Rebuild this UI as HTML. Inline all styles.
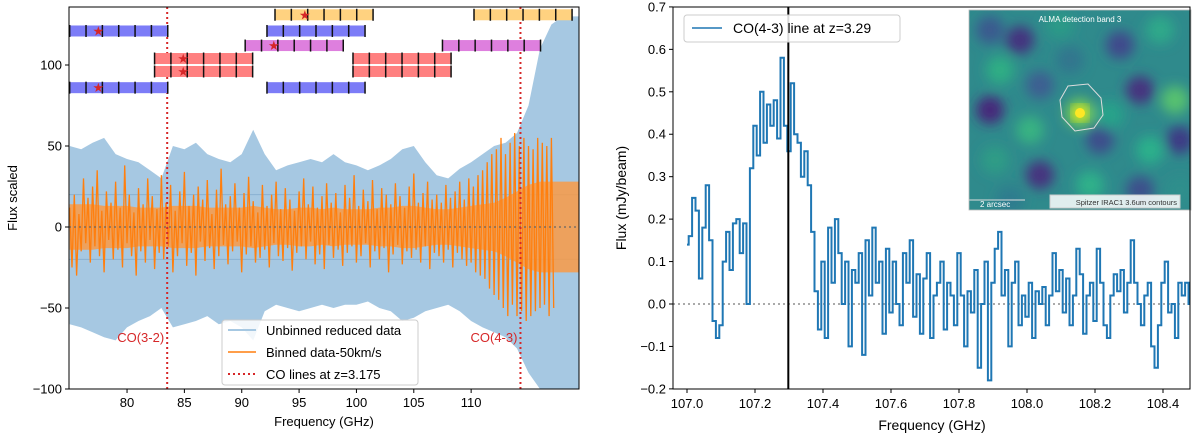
<!DOCTYPE html>
<html><head><meta charset="utf-8">
<style>
html,body{margin:0;padding:0;background:#fff;}
svg{display:block;font-family:"Liberation Sans","DejaVu Sans",sans-serif;}
</style></head>
<body>
<svg id="c" width="1200" height="441" viewBox="0 0 1200 441">
<defs>
<clipPath id="clipL"><rect x="69" y="7" width="510" height="382"/></clipPath>
<clipPath id="clipR"><rect x="673" y="7" width="517" height="382"/></clipPath>
<clipPath id="clipI"><rect x="969" y="10" width="222" height="200"/></clipPath>
<filter id="blur"><feGaussianBlur stdDeviation="6"/></filter>
</defs>
<g id="left"></g>
<g id="right"></g>
</svg>
<script>
// ---------- LEFT DATA ----------
const envFreq = [75,76,77,78,79,80,81,82,83,84,85,86,87,88,89,90,91,92,93,94,95,96,97,98,99,100,101,102,103,104,105,106,107,108,109,110,111,112,113,114,115,116,117,118,119,119.4];
const blueUpper = [50,48,52,55,45,42,40,35,30,50,48,52,45,42,40,45,60,45,35,38,40,42,40,45,40,38,35,38,42,48,50,40,32,30,36,40,45,50,52,58,75,110,125,130,130,130];
const blueLower = [-60,-62,-65,-68,-70,-62,-58,-55,-50,-62,-60,-58,-55,-60,-58,-62,-70,-52,-48,-50,-52,-50,-48,-50,-48,-48,-46,-50,-52,-58,-56,-52,-50,-48,-52,-58,-62,-65,-68,-75,-90,-100,-100,-100,-100,-100];
const orangeCoreUp = [14,14,14,13,13,13,12,12,12,13,13,13,12,12,12,12,13,12,11,11,12,12,11,12,11,11,11,12,12,13,13,12,11,11,12,13,14,15,18,22,26,28,28,28,28,28];
const orangeCoreLo = orangeCoreUp.map(v=>-v);
const binStart = 75.0, binStep = 0.2;
const binned = [12,-25,20,-30,8,-15,30,-10,18,-22,25,-12,35,-18,10,-28,22,-8,15,-20,
28,-14,12,-25,38,-10,20,-18,9,-30,24,-15,14,-22,30,-8,19,-26,11,-16,
32,-20,15,-12,26,-28,10,-18,22,-10,34,-24,13,-16,20,-30,25,-9,17,-21,
29,-13,8,-26,23,-18,36,-11,14,-23,19,-15,27,-9,12,-28,21,-17,31,-12,
16,-22,9,-19,26,-14,13,-25,20,-10,28,-18,11,-21,24,-13,17,-27,10,-16,
22,-12,30,-20,14,-9,25,-23,12,-17,19,-26,27,-11,15,-19,21,-14,9,-24,
26,-16,18,-12,32,-22,13,-18,23,-10,16,-25,29,-15,11,-20,24,-13,20,-28,
14,-17,27,-11,19,-23,12,-15,25,-19,33,-14,15,-22,21,-12,28,-26,17,-16,
20,-18,15,-22,26,-14,18,-25,22,-16,28,-20,17,-24,30,-22,25,-28,32,-30,
35,-32,40,-38,45,-42,48,-45,55,-50,45,-55,52,-48,58,-55,50,-52,55,-58,
50,-55,48,-52,55,-50,52,-48,50,-55,55,-50];
const coLines = [83.5, 114.3];
const coLabels = ["CO(3-2)","CO(4-3)"];
const barRowY = [131,121,112,104,96,86];
const barStart = [[92.9,110.25],[75.0,92.2],[90.3,107.5],[82.4,99.7],[82.4,99.7],[75.0,92.2]];
const barWidth = 8.55;
const barColors = ["#ffd280","#7c7cf7","#de7fde","#ff8080","#ff8080","#7c7cf7"];
const starX = [95.5,77.5,92.8,84.9,84.9,77.5];
const xTicksL = [80,85,90,95,100,105,110];
const yTicksL = [100,50,0,-50,-100];
const yTickLabelsL = ["100","50","0","\u221250","\u2212100"];

// ---------- RIGHT DATA ----------
const specStart = 107.00, specStep = 0.01;
const specFlux = [0.14,0.16,0.25,0.22,0.06,0.18,0.28,0.15,-0.04,-0.08,-0.05,0.1,0.17,0.08,0.19,0.2,0.12,0.19,0.0,0.32,
0.42,0.35,0.5,0.38,0.47,0.42,0.48,0.39,0.58,0.42,0.36,0.52,0.4,0.38,0.3,0.36,0.28,0.17,0.03,-0.06,
0.1,-0.08,0.18,0.05,0.2,0.12,0.0,0.1,-0.1,0.08,0.05,0.12,-0.12,0.15,0.02,0.18,0.05,0.1,-0.07,0.13,
-0.02,0.1,0.0,-0.05,0.12,0.05,0.15,-0.03,0.07,-0.07,0.06,0.12,-0.08,0.02,0.05,0.1,-0.06,0.05,0.02,-0.05,
0.12,0.02,-0.1,0.03,-0.02,0.08,-0.15,0.0,0.1,-0.18,0.05,0.13,0.17,0.02,0.08,-0.1,0.05,0.1,-0.05,0.02,
-0.03,0.05,-0.08,0.03,0.0,0.04,-0.05,0.02,0.12,0.03,0.08,-0.02,0.06,-0.05,0.02,0.13,0.07,-0.07,0.02,0.05,
-0.04,0.13,0.05,-0.05,-0.08,0.02,0.07,0.03,0.08,-0.02,0.05,0.15,0.05,0.0,-0.05,0.02,0.05,-0.1,-0.15,-0.05,
0.05,0.1,-0.02,0.0,-0.08,0.05,0.02,0.05,0.0];
const lineFreq = 107.298;
const xTicksR = [107.0,107.2,107.4,107.6,107.8,108.0,108.2,108.4];
const yTicksR = [0.7,0.6,0.5,0.4,0.3,0.2,0.1,0.0,-0.1,-0.2];
const yTickLabelsR = ["0.7","0.6","0.5","0.4","0.3","0.2","0.1","0.0","\u22120.1","\u22120.2"];

const NS="http://www.w3.org/2000/svg";
function mk(p,tag,attrs,text){const e=document.createElementNS(NS,tag);for(const k in attrs)e.setAttribute(k,attrs[k]);if(text!==undefined)e.textContent=text;p.appendChild(e);return e;}

const xL = f => 69 + (f-74.94)*11.47;
const yL = v => 227 - v*1.62;
const xR = f => 687 + (f-107.0)*340;
const yR = v => 304 - v*424.4;

// ---------- LEFT ----------
const L=document.getElementById('left');
const gL=mk(L,'g',{'clip-path':'url(#clipL)'});
function env(up,lo){let s='';envFreq.forEach((f,i)=>{s+=(i?'L':'M')+xL(f).toFixed(1)+','+yL(up[i]).toFixed(1);});for(let i=envFreq.length-1;i>=0;i--)s+='L'+xL(envFreq[i]).toFixed(1)+','+yL(lo[i]).toFixed(1);return s+'Z';}
let e1=mk(gL,'path',{d:env(blueUpper,blueLower),fill:'#a6c8e2'});


mk(gL,'line',{x1:69,x2:579,y1:yL(20),y2:yL(20),stroke:'#7ea9cc','stroke-width':1,opacity:0.7});
mk(gL,'line',{x1:69,x2:579,y1:yL(-20),y2:yL(-20),stroke:'#7ea9cc','stroke-width':1,opacity:0.7});
let e2=mk(gL,'path',{d:env(orangeCoreUp,orangeCoreLo),fill:'#f99a45',opacity:'0.85'});


let bd='';
binned.forEach((v,i)=>{bd+=(i?'L':'M')+xL(binStart+i*binStep).toFixed(1)+','+yL(v).toFixed(1);});
let e3=mk(gL,'path',{d:bd,fill:'none',stroke:'#ff7f0e','stroke-width':1.3});


mk(gL,'line',{x1:69,x2:579,y1:yL(0),y2:yL(0),stroke:'#666','stroke-dasharray':'2,3','stroke-width':1.2});
coLines.forEach((f,i)=>{
  let l=mk(gL,'line',{x1:xL(f),x2:xL(f),y1:7,y2:389,stroke:'#d62728','stroke-width':2,'stroke-dasharray':'2,3'});
  
  
  let t=mk(L,'text',{x:xL(f)-3,y:342,'text-anchor':'end','font-size':13,fill:'#d62728'},coLabels[i]);
  
  
});
barRowY.forEach((ry,r)=>{
  barStart[r].forEach(x0=>{
    let b=mk(gL,'rect',{x:xL(x0),y:yL(ry)-5.5,width:barWidth*11.47,height:11,fill:barColors[r]});
    
    
    for(let k=0;k<=6;k++){const xx=xL(x0+k*barWidth/6);mk(gL,'line',{x1:xx,x2:xx,y1:yL(ry)-6,y2:yL(ry)+6,stroke:'#111','stroke-width':1.5});}
  });
  let s=mk(gL,'text',{x:xL(starX[r]),y:yL(ry)+4.5,'text-anchor':'middle','font-size':13,fill:'#d62728'},'\u2605');
  
  
});
mk(L,'rect',{x:69,y:7,width:510,height:382,fill:'none',stroke:'#000','stroke-width':1});
xTicksL.forEach(f=>{mk(L,'line',{x1:xL(f),x2:xL(f),y1:389,y2:393,stroke:'#000'});mk(L,'text',{x:xL(f),y:407,'text-anchor':'middle','font-size':13},String(f));});
yTicksL.forEach((v,i)=>{mk(L,'line',{x1:65,x2:69,y1:yL(v),y2:yL(v),stroke:'#000'});mk(L,'text',{x:62,y:yL(v)+4.5,'text-anchor':'end','font-size':13},yTickLabelsL[i]);});
let xl=mk(L,'text',{x:324,y:426,'text-anchor':'middle','font-size':13},'Frequency (GHz)');


let yl=mk(L,'text',{x:0,y:0,'text-anchor':'middle','font-size':13,transform:'translate(17,198) rotate(-90)'},'Flux scaled');


const lg=mk(L,'g',{});


mk(lg,'rect',{x:222,y:320,width:196,height:65,rx:3,fill:'#fff','fill-opacity':0.85,stroke:'#ccc'});
mk(lg,'line',{x1:228,x2:256,y1:330,y2:330,stroke:'#a6c8e2','stroke-width':2});
mk(lg,'text',{x:266,y:335,'font-size':13},'Unbinned reduced data');
mk(lg,'line',{x1:228,x2:256,y1:352,y2:352,stroke:'#ff7f0e','stroke-width':1.5});
mk(lg,'text',{x:266,y:357,'font-size':13},'Binned data-50km/s');
mk(lg,'line',{x1:228,x2:256,y1:374,y2:374,stroke:'#d62728','stroke-width':2,'stroke-dasharray':'2,3'});
mk(lg,'text',{x:266,y:379,'font-size':13},'CO lines at z=3.175');

// ---------- RIGHT ----------
const R=document.getElementById('right');
const gR=mk(R,'g',{'clip-path':'url(#clipR)'});
mk(gR,'line',{x1:673,x2:1190,y1:yR(0),y2:yR(0),stroke:'#777','stroke-dasharray':'2,3','stroke-width':1.3});
let d='';
specFlux.forEach((v,i)=>{const f0=specStart+(i-0.5)*specStep,f1=specStart+(i+0.5)*specStep;d+=(i?'L':'M')+xR(Math.max(f0,specStart)).toFixed(1)+','+yR(v).toFixed(1)+'L'+xR(f1).toFixed(1)+','+yR(v).toFixed(1);});
let sp=mk(gR,'path',{d:d,fill:'none',stroke:'#1f77b4','stroke-width':2});


let vl=mk(gR,'line',{x1:xR(lineFreq),x2:xR(lineFreq),y1:7,y2:389,stroke:'#000','stroke-width':2});


const ins=mk(R,'g',{'clip-path':'url(#clipI)'});


mk(ins,'rect',{x:969,y:10,width:222,height:200,fill:'#2f8a8c'});
const gB=mk(ins,'g',{filter:'url(#blur)'});
[[990,30,'#3b5a8f'],[1020,40,'#44337f'],[1060,25,'#2a9a87'],[1120,45,'#3f4a8c'],[1160,30,'#2ea98a'],[1000,70,'#2fae84'],[1040,85,'#3e5f92'],[1140,90,'#46317f'],[1175,100,'#56c16f'],[990,110,'#46287a'],[1030,130,'#38b282'],[1100,140,'#3c4e8c'],[1150,150,'#2ab08b'],[1180,140,'#3d3b85'],[995,160,'#2d9c86'],[1040,175,'#46327f'],[1090,185,'#2fb18a'],[1140,190,'#3c508c'],[1010,200,'#2f7c8e'],[1180,190,'#2d8f8c'],[1070,60,'#30768e'],[1110,115,'#26a38a']].forEach(c=>mk(gB,'circle',{cx:c[0],cy:c[1],r:14,fill:c[2]}));
mk(gB,'circle',{cx:1080,cy:113,r:14,fill:'#7ad151'});
mk(ins,'circle',{cx:1080,cy:113,r:8,fill:'#e8e419',filter:'url(#blur)'});
mk(ins,'circle',{cx:1080,cy:113,r:5,fill:'#fde725'});
mk(ins,'polygon',{points:'1068,86 1088,84 1101,98 1103,115 1094,128 1075,131 1062,117 1060,100',fill:'none',stroke:'#ddd','stroke-width':1});
mk(ins,'text',{x:1080,y:22,'text-anchor':'middle','font-size':8,fill:'#fff'},'ALMA detection band 3');
mk(ins,'line',{x1:969,x2:1025,y1:200,y2:200,stroke:'#ddd','stroke-width':1});
mk(ins,'text',{x:980,y:207,'font-size':8,fill:'#fff'},'2 arcsec');
mk(ins,'rect',{x:1050,y:195,width:130,height:13,fill:'#fff','fill-opacity':0.85,stroke:'#ccc'});
mk(ins,'text',{x:1177,y:205,'text-anchor':'end','font-size':7.5,fill:'#333'},'Spitzer IRAC1 3.6um contours');
mk(R,'rect',{x:969,y:10,width:222,height:200,fill:'none',stroke:'#bbb','stroke-width':0.8});
mk(R,'rect',{x:673,y:7,width:517,height:382,fill:'none',stroke:'#000','stroke-width':1});
xTicksR.forEach(f=>{mk(R,'line',{x1:xR(f),x2:xR(f),y1:389,y2:393,stroke:'#000'});mk(R,'text',{x:xR(f),y:408,'text-anchor':'middle','font-size':13},f.toFixed(1));});
yTicksR.forEach((v,i)=>{mk(R,'line',{x1:669,x2:673,y1:yR(v),y2:yR(v),stroke:'#000'});mk(R,'text',{x:666,y:yR(v)+4.5,'text-anchor':'end','font-size':13},yTickLabelsR[i]);});
let xr=mk(R,'text',{x:932,y:430,'text-anchor':'middle','font-size':14},'Frequency (GHz)');


let yr=mk(R,'text',{x:0,y:0,'text-anchor':'middle','font-size':14,transform:'translate(626,198) rotate(-90)'},'Flux (mJy/beam)');


const lr=mk(R,'g',{});


mk(lr,'rect',{x:684,y:15,width:216,height:27,rx:3,fill:'#fff','fill-opacity':0.85,stroke:'#ccc'});
mk(lr,'line',{x1:692,x2:722,y1:28,y2:28,stroke:'#1f77b4','stroke-width':1.5});
mk(lr,'text',{x:733,y:33,'font-size':14},'CO(4-3) line at z=3.29');
</script>
</body></html>
